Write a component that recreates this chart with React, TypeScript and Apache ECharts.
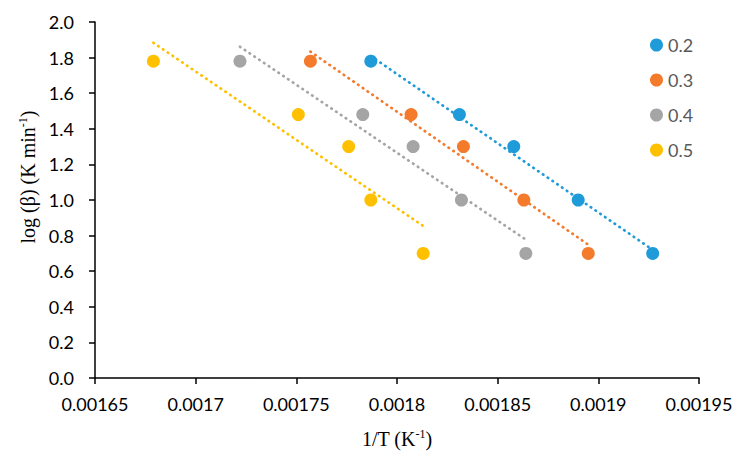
import React, { useEffect, useRef } from "react";
import * as echarts from "echarts";

const seriesNames = ["0.2", "0.3", "0.4", "0.5"];
const colors = ["#1E9BD8", "#F47A2C", "#A5A5A5", "#FFC000"];
const logBeta = [1.78, 1.48, 1.3, 1.0, 0.7];
const invT02 = [0.001787, 0.001831, 0.001858, 0.00189, 0.001927];
const invT03 = [0.001757, 0.001807, 0.001833, 0.001863, 0.001895];
const invT04 = [0.001722, 0.001783, 0.001808, 0.001832, 0.001864];
const invT05 = [0.001679, 0.001751, 0.001776, 0.001787, 0.001813];
const invTs = [invT02, invT03, invT04, invT05];

function fit(xs: number[], ys: number[]) {
  const n = xs.length;
  const mx = xs.reduce((a, b) => a + b, 0) / n;
  const my = ys.reduce((a, b) => a + b, 0) / n;
  let sxy = 0, sxx = 0;
  for (let i = 0; i < n; i++) {
    sxy += (xs[i] - mx) * (ys[i] - my);
    sxx += (xs[i] - mx) * (xs[i] - mx);
  }
  const k = sxy / sxx;
  return (x: number) => my + k * (x - mx);
}

export default function App() {
  const ref = useRef<HTMLDivElement>(null);
  useEffect(() => {
    if (!ref.current) return;
    const chart = echarts.init(ref.current, null, { renderer: "svg" });
    const scatter = invTs.map((xs, i) => ({
      name: seriesNames[i],
      type: "scatter",
      symbol: "circle",
      symbolSize: 13,
      itemStyle: { color: colors[i], opacity: 1 },
      data: xs.map((x, j) => [x, logBeta[j]]),
      z: 2,
    }));
    const trends = invTs.map((xs, i) => {
      const f = fit(xs, logBeta);
      const x0 = Math.min(...xs);
      const x1 = Math.max(...xs);
      return {
        name: "trend" + seriesNames[i],
        type: "line",
        showSymbol: false,
        silent: true,
        data: [[x0, f(x0)], [x1, f(x1)]],
        lineStyle: { color: colors[i], width: 2.7, type: [0.5, 5.3], cap: "round" },
        z: 3,
      };
    });
    const rich = {
      a: { fontSize: 20, fontFamily: "Liberation Serif", color: "#000", lineHeight: 22 },
      s: { fontSize: 12, fontFamily: "Liberation Serif", color: "#000", verticalAlign: "top", lineHeight: 12 },
    };
    chart.setOption({
      animation: false,
      backgroundColor: "#fff",
      grid: { left: 95, right: 44, top: 22, bottom: 85, containLabel: false },
      legend: {
        data: seriesNames,
        orient: "vertical",
        left: 645,
        top: 31,
        icon: "circle",
        itemWidth: 13,
        itemHeight: 13,
        itemGap: 17,
        textStyle: { fontSize: 18, color: "#595959", fontFamily: "Lato", lineHeight: 18 },
      },
      xAxis: {
        type: "value",
        min: 0.00165,
        max: 0.00195,
        interval: 0.00005,
        name: "{a|1/T (K}{s|-1}{a|)}",
        nameLocation: "middle",
        nameGap: 50,
        nameTextStyle: { rich },
        axisLine: { lineStyle: { color: "#000", width: 1.5 } },
        axisTick: { length: 6, lineStyle: { color: "#000", width: 1.5 } },
        splitLine: { show: false },
        axisLabel: {
          fontSize: 18,
          fontFamily: "Lato",
          color: "#000",
          margin: 17,
          formatter: (v: number) => String(parseFloat(v.toPrecision(6))),
        },
      },
      yAxis: {
        type: "value",
        min: 0,
        max: 2,
        interval: 0.2,
        name: "{a|log (β) (K min}{s|-1}{a|)}",
        nameLocation: "middle",
        nameRotate: 90,
        nameGap: 55,
        nameTextStyle: { rich, padding: [0, 0, 0, 46] },
        axisLine: { show: true, lineStyle: { color: "#000", width: 1.5 } },
        axisTick: { show: true, length: 6, lineStyle: { color: "#000", width: 1.5 } },
        splitLine: { show: false },
        axisLabel: {
          fontSize: 18,
          fontFamily: "Lato",
          color: "#000",
          margin: 21,
          formatter: (v: number) => v.toFixed(1),
        },
      },
      series: [...scatter, ...trends],
    });
    return () => chart.dispose();
  }, []);
  return <div ref={ref} style={{ width: 743, height: 463, position: "absolute", left: 0, top: 0 }} />;
}
